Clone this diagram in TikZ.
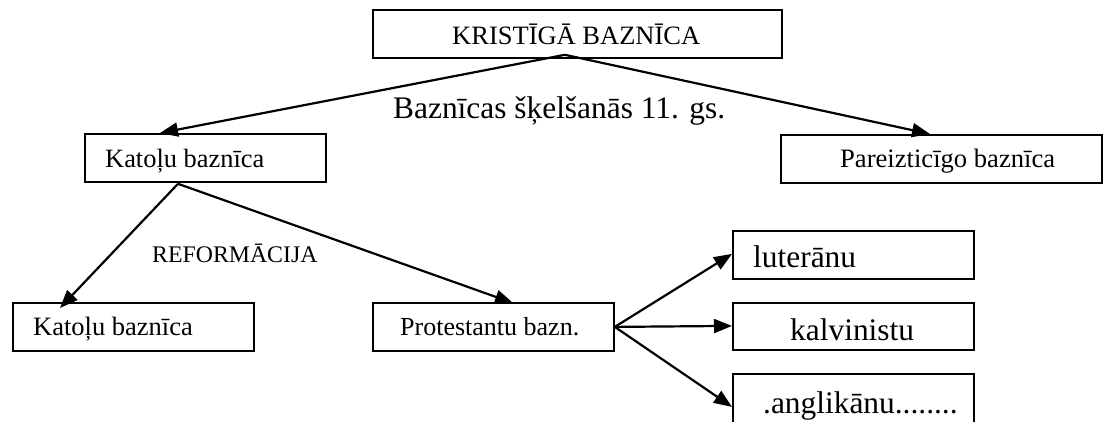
\documentclass[tikz,border=0pt]{standalone}
\usepackage{fontspec}
\setmainfont{Liberation Serif}
\usepackage{tikz}
\usetikzlibrary{arrows.meta}
\newcommand{\fsz}[1]{\fontsize{#1}{#1}\selectfont}

\begin{document}
\begin{tikzpicture}[x=1pt, y=-1pt,
    box/.style={draw, line width=1.8pt, minimum width=241pt, minimum height=48pt, anchor=north west, inner sep=0pt},
    txt/.style={anchor=base west, inner sep=0pt},
    arr/.style={line width=2.2pt, -{Triangle[length=18pt,width=14pt]}}]
    \useasboundingbox (0,0) rectangle (1104,421);
    \clip (0,0) rectangle (1104,421);

    % Top level
    \node[box, minimum width=409pt] (church) at (372,9) {};
    \node[txt, font=\fsz{26.5}] (churcht) at (452,44) {KRISTĪGĀ BAZNĪCA};
    \node[txt, font=\fsz{31.4}] (schism) at (393,118) {Baznīcas šķelšanās 11. gs.};

    % Split of 11th century
    \node[box] (cath) at (84,133) {};
    \node[txt, font=\fsz{26.4}] (catht) at (105,167) {Katoļu baznīca};
    \node[box, minimum width=321pt] (orth) at (780,134) {};
    \node[txt, font=\fsz{26.6}] (ortht) at (840,167) {Pareizticīgo baznīca};

    \draw[arr] ([xshift=-12.5pt, yshift=4pt]church.south) -- ([xshift=76pt]cath.north west);
    \draw[arr] ([xshift=-12.5pt, yshift=4pt]church.south) -- ([xshift=150pt]orth.north west);

    % Reformation
    \node[txt, font=\fsz{23.8}] (reform) at (152,262) {REFORMĀCIJA};
    \node[box] (cath2) at (12,302) {};
    \node[txt, font=\fsz{26.5}] (cath2t) at (33,335) {Katoļu baznīca};
    \node[box] (prot) at (372,302) {};
    \node[txt, font=\fsz{26}] (prott) at (400,335) {Protestantu bazn.};

    \draw[arr] ([xshift=94pt, yshift=-1pt]cath.south west) -- ([xshift=48pt, yshift=-6pt]cath2.north west);
    \draw[arr] ([xshift=94pt, yshift=-1pt]cath.south west) -- ([xshift=141pt, yshift=-1pt]prot.north west);

    % Protestant branches
    \node[box] (luth) at (732,230) {};
    \node[txt, font=\fsz{31.4}] (lutht) at (753,267) {luterānu};
    \node[box, minimum height=47pt] (calv) at (732,302) {};
    \node[txt, font=\fsz{31.4}] (calvt) at (790,340) {kalvinistu};
    \node[box, minimum height=57pt] (angl) at (732,373) {};
    \node[txt, font=\fsz{31.4}] (anglt) at (763,413) {.anglikānu........};

    \draw[arr] (prot.east) -- ([yshift=1pt]luth.west);
    \draw[arr] (prot.east) -- ([yshift=0.5pt]calv.west);
    \draw[arr] (prot.east) -- ([yshift=-4.5pt]angl.west);
\end{tikzpicture}
\end{document}
